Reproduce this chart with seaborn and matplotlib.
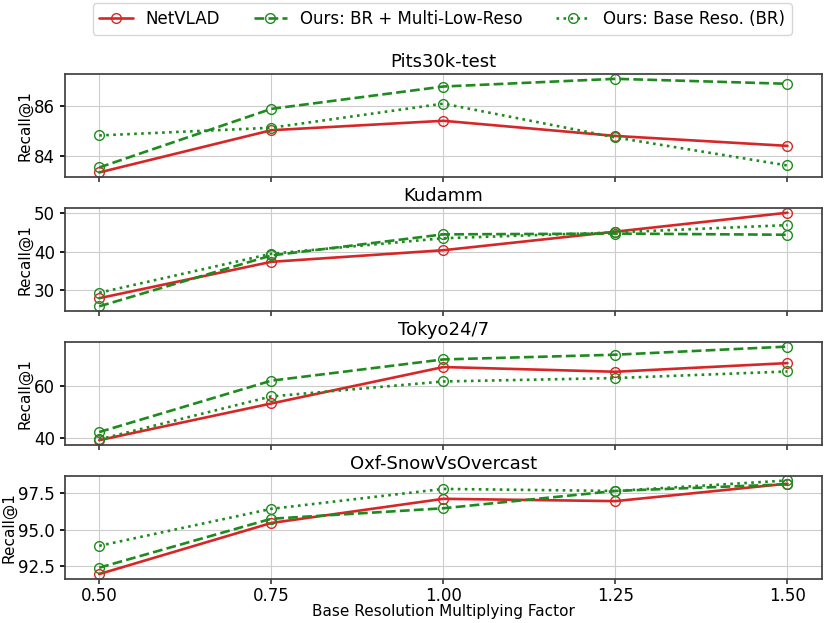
import numpy as np
import pandas as pd
import matplotlib
matplotlib.use("Agg")
import matplotlib.pyplot as plt
import seaborn as sns

factors = [0.50, 0.75, 1.00, 1.25, 1.50]
datasets = ["Pits30k-test", "Kudamm", "Tokyo24/7", "Oxf-SnowVsOvercast"]
methods = ["NetVLAD", "Ours: BR + Multi-Low-Reso", "Ours: Base Reso. (BR)"]

netvlad = {
    "Pits30k-test": [83.33, 85.03, 85.41, 84.80, 84.40],
    "Kudamm": [28.0, 37.4, 40.4, 45.2, 50.1],
    "Tokyo24/7": [39.2, 53.2, 67.1, 65.3, 68.6],
    "Oxf-SnowVsOvercast": [91.95, 95.46, 97.12, 96.96, 98.16],
}
multi_low = {
    "Pits30k-test": [83.53, 85.89, 86.79, 87.10, 86.90],
    "Kudamm": [25.9, 39.05, 44.5, 44.7, 44.4],
    "Tokyo24/7": [42.3, 61.9, 70.0, 71.8, 74.9],
    "Oxf-SnowVsOvercast": [92.39, 95.75, 96.47, 97.66, 98.12],
}
base_reso = {
    "Pits30k-test": [84.82, 85.13, 86.10, 84.74, 83.61],
    "Kudamm": [29.4, 39.5, 43.5, 45.0, 46.9],
    "Tokyo24/7": [39.5, 55.9, 61.6, 62.9, 65.4],
    "Oxf-SnowVsOvercast": [93.89, 96.43, 97.80, 97.66, 98.38],
}

series = dict(zip(methods, [netvlad, multi_low, base_reso]))
colors = {methods[0]: "#d62728", methods[1]: "#1f8a1f", methods[2]: "#1f8a1f"}
linestyles = {methods[0]: "-", methods[1]: "--", methods[2]: ":"}

rows = []
for m, d in series.items():
    for ds, vals in d.items():
        for f, v in zip(factors, vals):
            rows.append({"method": m, "dataset": ds, "factor": f, "recall": v})
df = pd.DataFrame(rows)

sns.set_theme(style="ticks", rc={
    "xtick.major.size": 3.5, "ytick.major.size": 3.5,
    "xtick.major.pad": 2.5, "ytick.major.pad": 3.5,
    "text.color": "black", "axes.labelcolor": "black",
    "xtick.color": "black", "ytick.color": "black",
    "axes.edgecolor": "0.25",
})
plt.rcParams["font.family"] = ["DejaVu Sans"]

fig, axes = plt.subplots(4, 1, figsize=(8.31, 6.23), dpi=100, sharex=True)
fig.subplots_adjust(left=0.078, right=0.989, top=0.881, bottom=0.071, hspace=0.30)

for ax, ds in zip(axes, datasets):
    sub = df[df["dataset"] == ds]
    for m in methods:
        s = sub[sub["method"] == m]
        sns.lineplot(data=s, x="factor", y="recall", ax=ax, color=colors[m],
                     linestyle=linestyles[m], linewidth=1.9, marker="o",
                     markersize=7, markerfacecolor="none",
                     markeredgecolor=colors[m], markeredgewidth=1.0,
                     label=m, legend=False)
    ax.set_title(ds, fontsize=13, pad=5)
    ax.set_ylabel("Recall@1", fontsize=11, labelpad=1)
    ax.set_xlabel("")
    ax.grid(True, color="0.8", linewidth=0.8)
    ax.tick_params(labelsize=12, colors="black")
    ax.tick_params(axis="x", colors="0.25", labelcolor="black")

axes[0].set_yticks([84, 86])
axes[1].set_yticks([30, 40, 50])
axes[2].set_yticks([40, 60])
axes[3].set_yticks([92.5, 95.0, 97.5])
axes[3].set_xticks(factors)
axes[3].set_xticklabels([f"{f:.2f}" for f in factors])
axes[3].set_xlabel("Base Resolution Multiplying Factor", fontsize=11, labelpad=-1)

handles, labels = axes[0].get_legend_handles_labels()
fig.legend(handles, labels, loc="upper center", ncol=3, fontsize=12,
           bbox_to_anchor=(0.532, 1.008), frameon=True, handlelength=2.0,
           columnspacing=2.0)

fig.savefig("out.png", dpi=100)
